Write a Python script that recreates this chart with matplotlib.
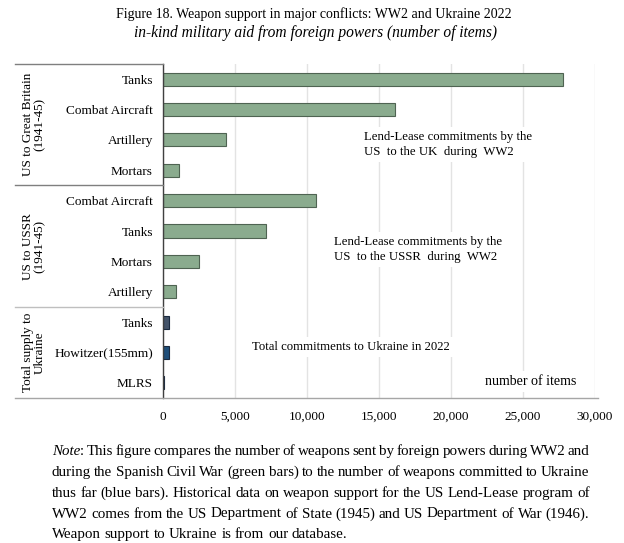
import matplotlib
matplotlib.use('Agg')
import matplotlib.pyplot as plt
from matplotlib.lines import Line2D

plt.rcParams['font.family'] = ['Liberation Serif', 'DejaVu Serif']

# ---------------- data ----------------
group_labels = ["US to Great Britain\n(1941-45)", "US to USSR\n(1941-45)", "Total supply to\nUkraine"]
uk_items = ["Tanks", "Combat Aircraft", "Artillery", "Mortars"]
uk_values = [27750, 16100, 4400, 1150]
ussr_items = ["Combat Aircraft", "Tanks", "Mortars", "Artillery"]
ussr_values = [10650, 7200, 2550, 950]
ua_items = ["Tanks", "Howitzer(155mm)", "MLRS"]
ua_values = [460, 440, 70]
x_ticks = [0, 5000, 10000, 15000, 20000, 25000, 30000]
x_tick_labels = ["0", "5,000", "10,000", "15,000", "20,000", "25,000", "30,000"]

title = "Figure 18. Weapon support in major conflicts: WW2 and Ukraine 2022"
subtitle = "in-kind military aid from foreign powers (number of items)"
note_lines = [
    "Note: This figure compares the number of weapons sent by foreign powers during WW2 and",
    "during the Spanish Civil War (green bars) to the number of weapons committed to Ukraine",
    "thus far (blue bars). Historical data on weapon support for the US Lend-Lease program of",
    "WW2 comes from the US Department of State (1945) and US Department of War (1946).",
    "Weapon support to Ukraine is from our database.",
]

# ---------------- layout ----------------
W, H = 624, 543
fig = plt.figure(figsize=(W / 100, H / 100), dpi=100)

ax_left, ax_right, ax_top, ax_bot = 162.7, 595.0, 64.0, 398.0
ax = fig.add_axes([ax_left / W, 1 - ax_bot / H, (ax_right - ax_left) / W, (ax_bot - ax_top) / H])

green = '#8aab8e'
green_edge = '#4f6352'
ua_colors = ['#44546a', '#1f4e79', '#1a1a1a']

items = uk_items + ussr_items + ua_items
values = uk_values + ussr_values + ua_values
colors = [green] * (len(uk_items) + len(ussr_items)) + ua_colors
edges = [green_edge] * (len(uk_items) + len(ussr_items)) + ['#1a2a40'] * len(ua_items)
pos = list(range(len(items)))

ax.barh(pos, values, height=0.43, color=colors, edgecolor=edges, linewidth=0.8, zorder=3)

ax.set_xlim(0, 30000)
ax.set_ylim(len(items) - 0.5, -0.5)
ax.set_yticks(pos)
ax.set_yticklabels(items, fontsize=9.5)
ax.set_xticks(x_ticks)
ax.set_xticklabels(x_tick_labels, fontsize=9.5)
ax.tick_params(axis='y', length=0, pad=7)
ax.tick_params(axis='x', length=0, pad=9)
ax.set_axisbelow(True)
ax.xaxis.grid(True, color='#e3e3e3', linewidth=1.0, zorder=0)
for s in ['top', 'right', 'bottom']:
    ax.spines[s].set_visible(False)
ax.spines['left'].set_color('#404040')
ax.spines['left'].set_linewidth(1.0)
ax.spines['left'].set_zorder(4)


def hline_px(y, x0, x1, color, lw=1.0):
    fig.add_artist(Line2D([x0 / W, x1 / W], [1 - y / H, 1 - y / H], color=color,
                          linewidth=lw, transform=fig.transFigure))


row_h = (ax_bot - ax_top) / len(items)
n1 = len(uk_items)
n2 = n1 + len(ussr_items)
hline_px(ax_top, 15, ax_left, '#7f7f7f')
hline_px(ax_top + n1 * row_h, 15, ax_left, '#7f7f7f')
hline_px(ax_top + n2 * row_h, 15, ax_left, '#bfbfbf')
hline_px(ax_bot, 15, 598, '#a6a6a6')

# group labels
group_bounds = [(0, n1), (n1, n2), (n2, len(items))]
for lab, (a, b) in zip(group_labels, group_bounds):
    yc = ax_top + (a + b) / 2 * row_h
    fig.text(34 / W, 1 - yc / H, lab, rotation=90, ha='center', va='center',
             multialignment='center', fontsize=9.5, linespacing=1.0)

# annotations
box = dict(facecolor='white', edgecolor='none', pad=3)
ax.text(13970, 2.16, "Lend-Lease commitments by the\nUS  to the UK  during  WW2", fontsize=9.2,
        ha='left', va='center', bbox=box, zorder=5, linespacing=1.3)
ax.text(11890, 5.62, "Lend-Lease commitments by the\nUS  to the USSR  during  WW2", fontsize=9.2,
        ha='left', va='center', bbox=box, zorder=5, linespacing=1.3)
ax.text(6180, 8.82, "Total commitments to Ukraine in 2022", fontsize=9.2,
        ha='left', va='center', bbox=box, zorder=5)
ax.text(22370, 9.95, "number of items", fontsize=10.1,
        ha='left', va='center', bbox=box, zorder=5)

# titles
fig.text(313.5 / W, 1 - 14 / H, title, ha='center', va='center', fontsize=10.0)
fig.text(315 / W, 1 - 33 / H, subtitle, ha='center', va='center', fontsize=11.2, style='italic')

# justified note
renderer = fig.canvas.get_renderer()
note_fs = 10.8


def seg_width(s, style):
    t = fig.text(0, 0, s, fontsize=note_fs, style=style)
    w = t.get_window_extent(renderer).width
    t.remove()
    return w


x0, x1 = 52.0, 589.5
baselines = [455, 476, 497, 517.5, 538]
for li, (line, yb) in enumerate(zip(note_lines, baselines)):
    words = line.split(' ')
    segs_list = []
    for wi, w in enumerate(words):
        if li == 0 and wi == 0 and w.startswith("Note"):
            segs_list.append([("Note", 'italic'), (w[4:], 'normal')])
        else:
            segs_list.append([(w, 'normal')])
    widths = [[seg_width(s, st) for s, st in segs] for segs in segs_list]
    total = sum(sum(ws) for ws in widths)
    last = li == len(note_lines) - 1
    gap = seg_width('a a', 'normal') - 2 * seg_width('a', 'normal')
    if not last and len(words) > 1:
        gap = (x1 - x0 - total) / (len(words) - 1)
    x = x0
    for segs, ws in zip(segs_list, widths):
        for (s, st), w in zip(segs, ws):
            fig.text(x / W, 1 - yb / H, s, ha='left', va='baseline', fontsize=note_fs, style=st)
            x += w
        x += gap

fig.savefig('out.png', dpi=100)
